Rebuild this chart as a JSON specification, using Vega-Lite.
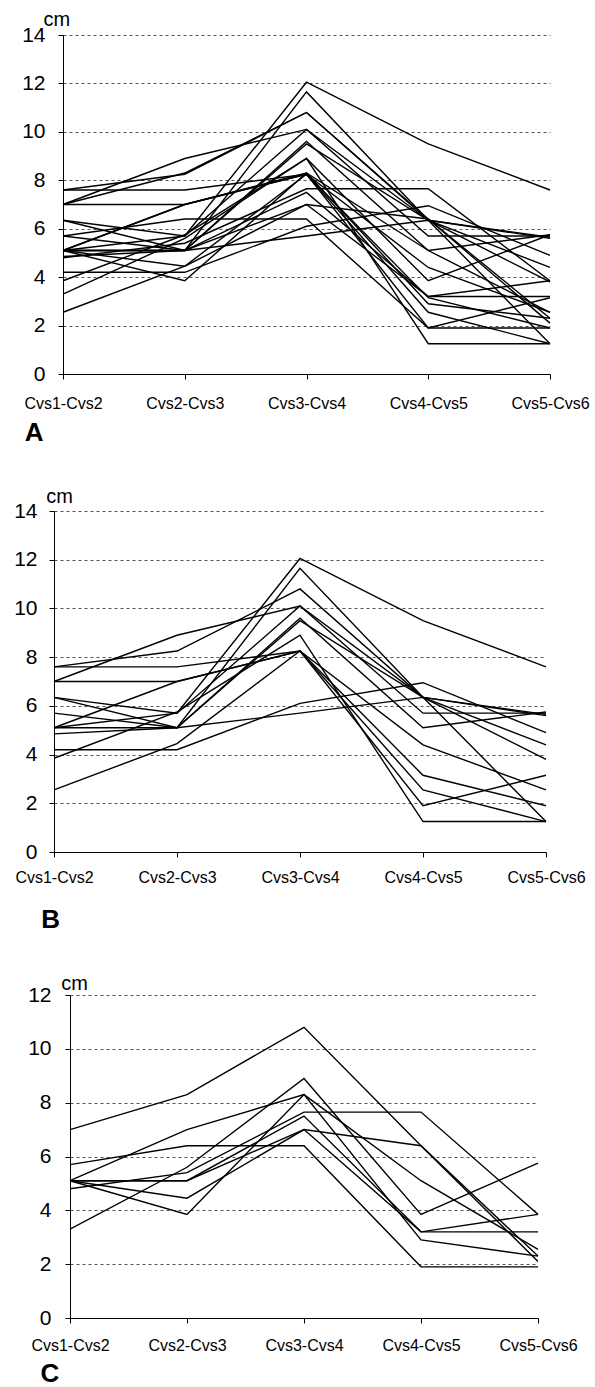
{
  "$schema": "https://vega.github.io/schema/vega-lite/v6.json",
  "padding": {"left": 0, "top": 9, "right": 0, "bottom": 0},
  "autosize": {"type": "pad"},
  "config": {
    "view": {"stroke": null},
    "font": "Liberation Sans",
    "axis": {"labelFont": "Liberation Sans", "titleFont": "Liberation Sans", "labelColor": "#000", "titleColor": "#000", "domainColor": "#000", "tickColor": "#000", "domainWidth": 1, "tickWidth": 1}
  },
  "datasets": {
    "lines": [
      {"g":"B","id":"b1","s":"Cvs1-Cvs2","v":7.6},{"g":"B","id":"b1","s":"Cvs2-Cvs3","v":7.6},{"g":"B","id":"b1","s":"Cvs3-Cvs4","v":8.25},{"g":"B","id":"b1","s":"Cvs4-Cvs5","v":3.15},{"g":"B","id":"b1","s":"Cvs5-Cvs6","v":1.9},
      {"g":"B","id":"b2","s":"Cvs1-Cvs2","v":7.6},{"g":"B","id":"b2","s":"Cvs2-Cvs3","v":8.25},{"g":"B","id":"b2","s":"Cvs3-Cvs4","v":10.8},{"g":"B","id":"b2","s":"Cvs4-Cvs5","v":6.35},{"g":"B","id":"b2","s":"Cvs5-Cvs6","v":4.4},
      {"g":"B","id":"b3","s":"Cvs1-Cvs2","v":7.0},{"g":"B","id":"b3","s":"Cvs2-Cvs3","v":7.0},{"g":"B","id":"b3","s":"Cvs3-Cvs4","v":8.25},{"g":"B","id":"b3","s":"Cvs4-Cvs5","v":4.4},{"g":"B","id":"b3","s":"Cvs5-Cvs6","v":2.55},
      {"g":"B","id":"b4","s":"Cvs1-Cvs2","v":7.0},{"g":"B","id":"b4","s":"Cvs2-Cvs3","v":8.9},{"g":"B","id":"b4","s":"Cvs3-Cvs4","v":10.1},{"g":"B","id":"b4","s":"Cvs4-Cvs5","v":6.35},{"g":"B","id":"b4","s":"Cvs5-Cvs6","v":3.8},
      {"g":"B","id":"b5","s":"Cvs1-Cvs2","v":6.35},{"g":"B","id":"b5","s":"Cvs2-Cvs3","v":5.7},{"g":"B","id":"b5","s":"Cvs3-Cvs4","v":12.05},{"g":"B","id":"b5","s":"Cvs4-Cvs5","v":9.5},{"g":"B","id":"b5","s":"Cvs5-Cvs6","v":7.6},
      {"g":"B","id":"b6","s":"Cvs1-Cvs2","v":6.35},{"g":"B","id":"b6","s":"Cvs2-Cvs3","v":5.1},{"g":"B","id":"b6","s":"Cvs3-Cvs4","v":9.6},{"g":"B","id":"b6","s":"Cvs4-Cvs5","v":5.1},{"g":"B","id":"b6","s":"Cvs5-Cvs6","v":5.75},
      {"g":"B","id":"b7","s":"Cvs1-Cvs2","v":5.7},{"g":"B","id":"b7","s":"Cvs2-Cvs3","v":5.1},{"g":"B","id":"b7","s":"Cvs3-Cvs4","v":9.5},{"g":"B","id":"b7","s":"Cvs4-Cvs5","v":6.35},{"g":"B","id":"b7","s":"Cvs5-Cvs6","v":5.6},
      {"g":"B","id":"b8","s":"Cvs1-Cvs2","v":5.1},{"g":"B","id":"b8","s":"Cvs2-Cvs3","v":7.0},{"g":"B","id":"b8","s":"Cvs3-Cvs4","v":8.25},{"g":"B","id":"b8","s":"Cvs4-Cvs5","v":2.55},{"g":"B","id":"b8","s":"Cvs5-Cvs6","v":1.25},
      {"g":"B","id":"b9","s":"Cvs1-Cvs2","v":5.1},{"g":"B","id":"b9","s":"Cvs2-Cvs3","v":5.7},{"g":"B","id":"b9","s":"Cvs3-Cvs4","v":10.1},{"g":"B","id":"b9","s":"Cvs4-Cvs5","v":5.7},{"g":"B","id":"b9","s":"Cvs5-Cvs6","v":5.7},
      {"g":"B","id":"b10","s":"Cvs1-Cvs2","v":4.85},{"g":"B","id":"b10","s":"Cvs2-Cvs3","v":5.1},{"g":"B","id":"b10","s":"Cvs3-Cvs4","v":5.7},{"g":"B","id":"b10","s":"Cvs4-Cvs5","v":6.35},{"g":"B","id":"b10","s":"Cvs5-Cvs6","v":5.65},
      {"g":"B","id":"b11","s":"Cvs1-Cvs2","v":4.2},{"g":"B","id":"b11","s":"Cvs2-Cvs3","v":4.2},{"g":"B","id":"b11","s":"Cvs3-Cvs4","v":6.1},{"g":"B","id":"b11","s":"Cvs4-Cvs5","v":6.95},{"g":"B","id":"b11","s":"Cvs5-Cvs6","v":4.9},
      {"g":"B","id":"b12","s":"Cvs1-Cvs2","v":3.85},{"g":"B","id":"b12","s":"Cvs2-Cvs3","v":5.75},{"g":"B","id":"b12","s":"Cvs3-Cvs4","v":8.9},{"g":"B","id":"b12","s":"Cvs4-Cvs5","v":1.25},{"g":"B","id":"b12","s":"Cvs5-Cvs6","v":1.25},
      {"g":"B","id":"b13","s":"Cvs1-Cvs2","v":2.55},{"g":"B","id":"b13","s":"Cvs2-Cvs3","v":4.45},{"g":"B","id":"b13","s":"Cvs3-Cvs4","v":8.25},{"g":"B","id":"b13","s":"Cvs4-Cvs5","v":1.9},{"g":"B","id":"b13","s":"Cvs5-Cvs6","v":3.15},
      {"g":"B","id":"b14","s":"Cvs1-Cvs2","v":5.1},{"g":"B","id":"b14","s":"Cvs2-Cvs3","v":5.1},{"g":"B","id":"b14","s":"Cvs3-Cvs4","v":11.65},{"g":"B","id":"b14","s":"Cvs4-Cvs5","v":6.35},{"g":"B","id":"b14","s":"Cvs5-Cvs6","v":1.25},
      {"g":"C","id":"c1","s":"Cvs1-Cvs2","v":7.0},{"g":"C","id":"c1","s":"Cvs2-Cvs3","v":8.3},{"g":"C","id":"c1","s":"Cvs3-Cvs4","v":10.8},{"g":"C","id":"c1","s":"Cvs4-Cvs5","v":6.4},{"g":"C","id":"c1","s":"Cvs5-Cvs6","v":2.1},
      {"g":"C","id":"c2","s":"Cvs1-Cvs2","v":5.7},{"g":"C","id":"c2","s":"Cvs2-Cvs3","v":6.4},{"g":"C","id":"c2","s":"Cvs3-Cvs4","v":6.4},{"g":"C","id":"c2","s":"Cvs4-Cvs5","v":1.9},{"g":"C","id":"c2","s":"Cvs5-Cvs6","v":1.9},
      {"g":"C","id":"c3","s":"Cvs1-Cvs2","v":5.1},{"g":"C","id":"c3","s":"Cvs2-Cvs3","v":7.0},{"g":"C","id":"c3","s":"Cvs3-Cvs4","v":8.3},{"g":"C","id":"c3","s":"Cvs4-Cvs5","v":5.1},{"g":"C","id":"c3","s":"Cvs5-Cvs6","v":2.55},
      {"g":"C","id":"c4","s":"Cvs1-Cvs2","v":5.1},{"g":"C","id":"c4","s":"Cvs2-Cvs3","v":5.1},{"g":"C","id":"c4","s":"Cvs3-Cvs4","v":7.5},{"g":"C","id":"c4","s":"Cvs4-Cvs5","v":3.2},{"g":"C","id":"c4","s":"Cvs5-Cvs6","v":3.85},
      {"g":"C","id":"c5","s":"Cvs1-Cvs2","v":5.1},{"g":"C","id":"c5","s":"Cvs2-Cvs3","v":4.45},{"g":"C","id":"c5","s":"Cvs3-Cvs4","v":7.0},{"g":"C","id":"c5","s":"Cvs4-Cvs5","v":6.4},{"g":"C","id":"c5","s":"Cvs5-Cvs6","v":2.3},
      {"g":"C","id":"c6","s":"Cvs1-Cvs2","v":5.1},{"g":"C","id":"c6","s":"Cvs2-Cvs3","v":3.85},{"g":"C","id":"c6","s":"Cvs3-Cvs4","v":8.3},{"g":"C","id":"c6","s":"Cvs4-Cvs5","v":2.9},{"g":"C","id":"c6","s":"Cvs5-Cvs6","v":2.3},
      {"g":"C","id":"c7","s":"Cvs1-Cvs2","v":4.8},{"g":"C","id":"c7","s":"Cvs2-Cvs3","v":5.4},{"g":"C","id":"c7","s":"Cvs3-Cvs4","v":7.65},{"g":"C","id":"c7","s":"Cvs4-Cvs5","v":7.65},{"g":"C","id":"c7","s":"Cvs5-Cvs6","v":3.85},
      {"g":"C","id":"c8","s":"Cvs1-Cvs2","v":3.3},{"g":"C","id":"c8","s":"Cvs2-Cvs3","v":5.6},{"g":"C","id":"c8","s":"Cvs3-Cvs4","v":8.9},{"g":"C","id":"c8","s":"Cvs4-Cvs5","v":3.85},{"g":"C","id":"c8","s":"Cvs5-Cvs6","v":5.75},
      {"g":"C","id":"c9","s":"Cvs1-Cvs2","v":5.1},{"g":"C","id":"c9","s":"Cvs2-Cvs3","v":5.1},{"g":"C","id":"c9","s":"Cvs3-Cvs4","v":7.0},{"g":"C","id":"c9","s":"Cvs4-Cvs5","v":3.2},{"g":"C","id":"c9","s":"Cvs5-Cvs6","v":3.2}
    ]
  },
  "spacing": 40,
  "vconcat": [
    {
      "spacing": 0,
      "hconcat": [
        {"width": 17.7, "height": 1, "data": {"values": []}, "mark": "point"},
        {
          "width": 487, "height": 339,
          "data": {"name": "lines"},
          "mark": {"type": "line", "color": "#000", "strokeWidth": 1.4},
          "encoding": {
            "x": {"field": "s", "type": "ordinal", "scale": {"type": "point", "padding": 0},
                  "axis": {"title": "A", "titleX": -38.7, "titleY": 66.5, "titleAlign": "left", "titleBaseline": "alphabetic", "titleFontSize": 26, "titleFontWeight": "bold",
                           "labelAngle": 0, "labelFontSize": 16, "labelPadding": 16, "tickSize": 5, "grid": false}},
            "y": {"field": "v", "type": "quantitative", "scale": {"domain": [0, 14], "nice": false},
                  "axis": {"title": "cm", "titleAngle": 0, "titleX": -6.7, "titleY": -10, "titleAlign": "center", "titleBaseline": "alphabetic", "titleFontSize": 20, "titleFontWeight": "normal",
                           "values": [0, 2, 4, 6, 8, 10, 12, 14], "labelFontSize": 21, "labelPadding": 13, "tickSize": 5, "minExtent": 45, "maxExtent": 45,
                           "grid": true, "gridDash": [3, 3], "gridColor": "#555", "gridWidth": 1}},
            "detail": {"field": "id"}
          }
        }
      ]
    },
    {
      "spacing": 0,
      "hconcat": [
        {"width": 8.3, "height": 1, "data": {"values": []}, "mark": "point"},
        {
          "width": 492, "height": 341,
          "data": {"name": "lines"},
          "transform": [{"filter": "datum.g == 'B'"}],
          "mark": {"type": "line", "color": "#000", "strokeWidth": 1.4},
          "encoding": {
            "x": {"field": "s", "type": "ordinal", "scale": {"type": "point", "padding": 0},
                  "axis": {"title": "B", "titleX": -13.3, "titleY": 75.5, "titleAlign": "left", "titleBaseline": "alphabetic", "titleFontSize": 26, "titleFontWeight": "bold",
                           "labelAngle": 0, "labelFontSize": 16, "labelPadding": 12, "tickSize": 5, "grid": false}},
            "y": {"field": "v", "type": "quantitative", "scale": {"domain": [0, 14], "nice": false},
                  "axis": {"title": "cm", "titleAngle": 0, "titleX": 5, "titleY": -8.5, "titleAlign": "center", "titleBaseline": "alphabetic", "titleFontSize": 20, "titleFontWeight": "normal",
                           "values": [0, 2, 4, 6, 8, 10, 12, 14], "labelFontSize": 21, "labelPadding": 12, "tickSize": 5, "minExtent": 45, "maxExtent": 45,
                           "grid": true, "gridDash": [3, 3], "gridColor": "#555", "gridWidth": 1}},
            "detail": {"field": "id"}
          }
        }
      ]
    },
    {
      "spacing": 0,
      "hconcat": [
        {"width": 25, "height": 1, "data": {"values": []}, "mark": "point"},
        {
          "width": 468, "height": 323,
          "data": {"name": "lines"},
          "transform": [{"filter": "datum.g == 'C'"}],
          "mark": {"type": "line", "color": "#000", "strokeWidth": 1.4},
          "encoding": {
            "x": {"field": "s", "type": "ordinal", "scale": {"type": "point", "padding": 0},
                  "axis": {"title": "C", "titleX": -30, "titleY": 63.2, "titleAlign": "left", "titleBaseline": "alphabetic", "titleFontSize": 26, "titleFontWeight": "bold",
                           "labelAngle": 0, "labelFontSize": 16, "labelPadding": 14, "tickSize": 5, "grid": false}},
            "y": {"field": "v", "type": "quantitative", "scale": {"domain": [0, 12], "nice": false},
                  "axis": {"title": "cm", "titleAngle": 0, "titleX": 4, "titleY": -5.9, "titleAlign": "center", "titleBaseline": "alphabetic", "titleFontSize": 20, "titleFontWeight": "normal",
                           "values": [0, 2, 4, 6, 8, 10, 12], "labelFontSize": 21, "labelPadding": 14, "tickSize": 5, "minExtent": 45, "maxExtent": 45,
                           "grid": true, "gridDash": [3, 3], "gridColor": "#555", "gridWidth": 1}},
            "detail": {"field": "id"}
          }
        }
      ]
    }
  ]
}
